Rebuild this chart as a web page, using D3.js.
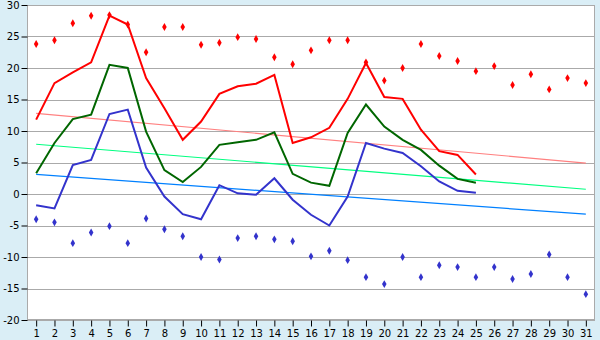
<!DOCTYPE html>
<html><head><meta charset="utf-8">
<script src="https://cdn.jsdelivr.net/npm/d3@7/dist/d3.min.js"></script>
<style>html,body{margin:0;padding:0;background:#daeef6;}svg{display:block;}</style>
</head><body>
<svg id="chart" width="600" height="340"></svg>
<script>
const days = d3.range(1, 32);
const yTicks = [-20, -15, -10, -5, 0, 5, 10, 15, 20, 25, 30];
const maxTemp = [11.8, 17.6, 19.3, 20.9, 28.3, 26.9, 18.4, 13.6, 8.6, 11.5, 15.9, 17.1, 17.5, 18.9, 8.1, 9.0, 10.5, 15.1, 20.8, 15.4, 15.1, 10.2, 6.8, 6.2, 3.1];
const meanTemp = [3.3, 8.1, 11.9, 12.6, 20.5, 20.0, 9.9, 3.8, 1.9, 4.3, 7.8, 8.2, 8.6, 9.8, 3.2, 1.8, 1.3, 9.7, 14.2, 10.7, 8.6, 7.0, 4.5, 2.4, 1.8];
const minTemp = [-1.8, -2.3, 4.6, 5.4, 12.7, 13.4, 4.2, -0.4, -3.2, -4.0, 1.4, 0.1, -0.1, 2.5, -0.9, -3.3, -5.0, -0.4, 8.1, 7.2, 6.5, 4.4, 2.0, 0.5, 0.2];
const recordHigh = [23.8, 24.4, 27.1, 28.3, 28.4, 26.9, 22.5, 26.5, 26.5, 23.7, 24.0, 24.9, 24.6, 21.7, 20.6, 22.8, 24.4, 24.4, 20.9, 18.0, 20.0, 23.8, 21.9, 21.1, 19.5, 20.3, 17.3, 19.0, 16.6, 18.4, 17.6];
const recordLow = [-4.0, -4.5, -7.8, -6.1, -5.1, -7.8, -3.9, -5.6, -6.7, -10.0, -10.4, -7.0, -6.7, -7.2, -7.5, -9.9, -9.0, -10.5, -13.2, -14.3, -10.0, -13.2, -11.3, -11.6, -13.2, -11.6, -13.5, -12.7, -9.6, -13.2, -15.9];
const trendDays = [1, 31];
const normalMax = [12.8, 4.9];
const normalMean = [7.9, 0.75];
const normalMin = [3.1, -3.2];

const svg = d3.select("#chart");
const L = 27, R = 595, T = 5, B = 320;
const x = d3.scalePoint().domain(days).range([L, R]).padding(0.5);
const y = d3.scaleLinear().domain([-20, 30]).range([B, T]);

svg.append("rect").attr("x", L).attr("y", T).attr("width", R - L).attr("height", B - T)
  .attr("fill", "#ffffff");

// gridlines
svg.append("g").selectAll("line").data(yTicks).join("line")
  .attr("x1", L).attr("x2", R)
  .attr("y1", d => Math.round(y(d)) + 0.5).attr("y2", d => Math.round(y(d)) + 0.5)
  .attr("stroke", "#aaaaaa").attr("stroke-width", 1);

svg.append("rect").attr("x", L + 0.5).attr("y", T + 0.5).attr("width", R - L - 1).attr("height", B - T - 1)
  .attr("fill", "none").attr("stroke", "#aaaaaa");

// axes
const yAxis = svg.append("g").attr("transform", `translate(${L + 0.5},0)`)
  .call(d3.axisLeft(y).tickValues(yTicks).tickSize(6).tickPadding(2).tickFormat(d => String(d)));
const xAxis = svg.append("g").attr("transform", `translate(0,${B + 0.5})`)
  .call(d3.axisBottom(x).tickSize(6).tickPadding(3));
[yAxis, xAxis].forEach(a => {
  a.selectAll(".tick line").attr("stroke", "#000");
  a.selectAll("text").attr("font-family", "DejaVu Sans, Verdana, sans-serif").attr("font-size", 10).attr("fill", "#000");
});
yAxis.select(".domain").remove();
xAxis.select(".domain").remove();

// trend lines
const trendLine = d3.line().x((d, i) => x(trendDays[i])).y(d => y(d));
[[normalMax, "#ff8080"], [normalMean, "#00ff80"], [normalMin, "#0080ff"]].forEach(([vals, c]) => {
  svg.append("path").attr("d", trendLine(vals)).attr("fill", "none").attr("stroke", c).attr("stroke-width", 1.2);
});

// series lines
const line = d3.line().x((d, i) => x(days[i])).y(d => y(d));
[[maxTemp, "#ff0000"], [meanTemp, "#006600"], [minTemp, "#3333cc"]].forEach(([vals, c]) => {
  svg.append("path").attr("d", line(vals)).attr("fill", "none").attr("stroke", c)
    .attr("stroke-width", 2).attr("stroke-linejoin", "miter");
});

// record markers (small diamonds)
const diamond = d3.symbol().type(d3.symbolDiamond).size(18);
[[recordHigh, "#ff0000"], [recordLow, "#3333cc"]].forEach(([vals, c]) => {
  svg.append("g").selectAll("path").data(vals).join("path")
    .attr("d", diamond)
    .attr("transform", (d, i) => `translate(${x(days[i])},${y(d)})`)
    .attr("fill", c);
});
</script>
</body></html>
